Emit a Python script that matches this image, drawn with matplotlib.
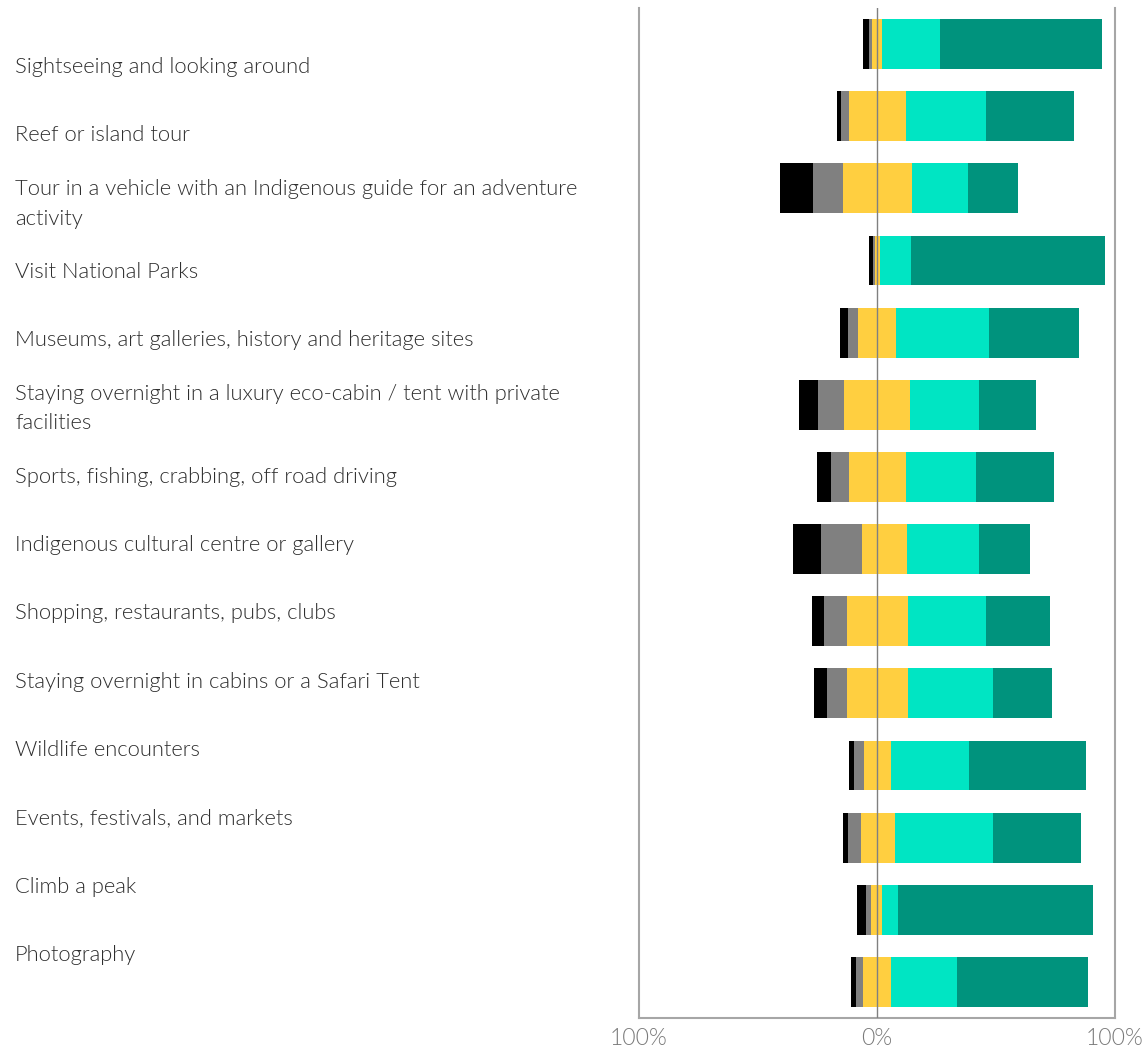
import numpy as np
import matplotlib
matplotlib.use("Agg")
import matplotlib.pyplot as plt

# Activity labels, top to bottom
activities = [
    "Sightseeing and looking around",
    "Reef or island tour",
    "Tour in a vehicle with an Indigenous guide for an adventure\nactivity",
    "Visit National Parks",
    "Museums, art galleries, history and heritage sites",
    "Staying overnight in a luxury eco-cabin / tent with private\nfacilities",
    "Sports, fishing, crabbing, off road driving",
    "Indigenous cultural centre or gallery",
    "Shopping, restaurants, pubs, clubs",
    "Staying overnight in cabins or a Safari Tent",
    "Wildlife encounters",
    "Events, festivals, and markets",
    "Climb a peak",
    "Photography",
]

# Share of responses (%) per category
very_negative = [2.5, 1.7, 13.9, 1.7, 3.4, 8.0, 5.9, 11.7, 5.1, 5.5, 2.1, 2.1, 3.7, 2.1]
negative = [1.3, 3.4, 12.6, 0.8, 4.2, 10.9, 7.6, 17.3, 9.7, 8.4, 4.2, 5.4, 2.1, 3.0]
neutral_low = [2.2, 11.9, 14.4, 1.0, 8.1, 14.0, 11.9, 6.4, 12.7, 12.7, 5.6, 6.9, 2.7, 6.0]
neutral_high = [2.0, 12.0, 14.6, 1.1, 7.8, 13.7, 12.0, 12.5, 12.9, 12.9, 5.7, 7.4, 2.0, 5.7]
positive = [24.3, 33.7, 23.5, 13.0, 39.1, 29.0, 29.5, 30.2, 32.8, 35.7, 32.8, 41.2, 6.7, 27.8]
very_positive = [68.1, 36.9, 21.0, 81.6, 37.8, 24.0, 32.7, 21.4, 26.8, 24.8, 49.2, 37.0, 81.9, 55.0]

tick_pos = [-100, 0, 100]
tick_text = ["100%", "0%", "100%"]

COLORS = ["#000000", "#808080", "#FFCF40", "#FFCF40", "#00E5C3", "#00937D"]

plt.rcParams['font.family'] = ['Lato', 'DejaVu Sans']

W, H = 1146, 1046
fig = plt.figure(figsize=(W / 100, H / 100), dpi=100)

# bar axes
ax = fig.add_axes([639 / W, (H - 1018) / H, (1115 - 639) / W, (1018 - 8) / H])
y = np.arange(len(activities))

vn = np.array(very_negative)
ng = np.array(negative)
nl = np.array(neutral_low)
nh = np.array(neutral_high)
ps = np.array(positive)
vp = np.array(very_positive)

# bars start left of zero by the negative share plus the lower half of neutral
left_start = -(vn + ng + nl)
segments = [vn, ng, nl, nh, ps, vp]
left = left_start.copy()
for seg, col in zip(segments, COLORS):
    ax.barh(y, seg, left=left, height=0.69, color=col, linewidth=0)
    left = left + seg

ax.axvline(0, color="#808080", linewidth=1.0, zorder=5)

ax.set_xlim(-100, 100)
ax.set_ylim(len(activities) - 0.5, -0.5)
ax.set_yticks([])
ax.set_xticks(tick_pos)
ax.set_xticklabels(tick_text, fontsize=16.5, color="#7a7a7a", fontweight=300)
ax.tick_params(axis="x", length=0, pad=7)
for side in ["left", "right", "bottom"]:
    ax.spines[side].set_color("#a6a6a6")
    ax.spines[side].set_linewidth(1.5)
ax.spines["top"].set_visible(False)

# label axes (labels sit on their own spacing)
lab = fig.add_axes([0, (H - 989) / H, 600 / W, (989 - 33) / H])
lab.set_xlim(0, 1)
lab.set_ylim(len(activities) - 0.5, -0.5)
lab.axis("off")
for i, name in enumerate(activities):
    lab.text(15 / 600, i, name, ha="left", va="center", fontsize=15.8,
             color="#2e2e2e", fontweight=300, linespacing=1.6)

fig.savefig("out.png", dpi=100)
